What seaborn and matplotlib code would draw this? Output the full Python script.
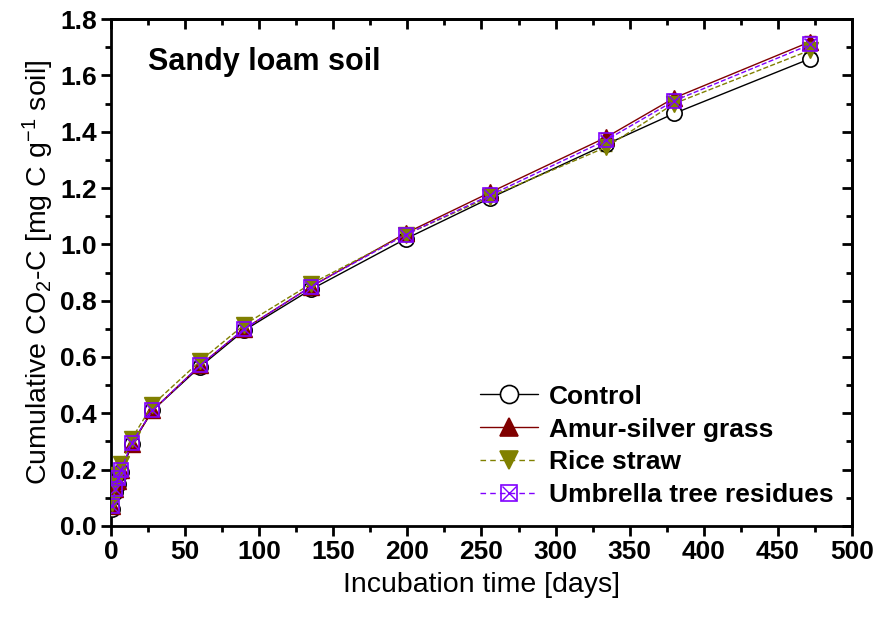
import matplotlib
matplotlib.use("Agg")
import matplotlib.pyplot as plt
import seaborn as sns
import numpy as np
import pandas as pd
from matplotlib.lines import Line2D
from matplotlib.legend_handler import HandlerTuple

days = [1, 3, 5, 7, 14, 28, 60, 90, 135, 199, 256, 334, 380, 472]
control = [0.06, 0.12, 0.15, 0.19, 0.29, 0.41, 0.565, 0.695, 0.84, 1.02, 1.165, 1.355, 1.465, 1.66]
amur = [0.07, 0.13, 0.16, 0.20, 0.29, 0.41, 0.57, 0.70, 0.85, 1.04, 1.185, 1.38, 1.52, 1.72]
rice = [0.08, 0.15, 0.18, 0.22, 0.31, 0.43, 0.585, 0.715, 0.86, 1.035, 1.17, 1.345, 1.50, 1.69]
umbrella = [0.07, 0.13, 0.17, 0.20, 0.295, 0.41, 0.57, 0.70, 0.85, 1.035, 1.175, 1.37, 1.51, 1.71]
err = [0.01, 0.01, 0.01, 0.01, 0.015, 0.015, 0.015, 0.015, 0.015, 0.015, 0.015, 0.015, 0.015, 0.02]
labels = ["Control", "Amur-silver grass", "Rice straw", "Umbrella tree residues"]

sns.set_theme(style="ticks")
plt.rcParams['font.family'] = ['Liberation Sans', 'DejaVu Sans']
plt.rcParams['mathtext.default'] = 'regular'
for k in ['text.color', 'axes.labelcolor', 'xtick.color', 'ytick.color', 'axes.edgecolor']:
    plt.rcParams[k] = 'black'

fig = plt.figure(figsize=(8.81, 6.18), dpi=100)
ax = fig.add_axes([0.126, 0.149, 0.841, 0.820])

series = [
    (control, 'black', '-', 'o', 'white'),
    (amur, '#800000', '-', '^', '#800000'),
    (rice, '#808000', '--', 'v', '#808000'),
    (umbrella, '#8000FF', '--', 's', 'none'),
]
handles = []
for (vals, col, ls, mk, fc), lab in zip(series, labels):
    df = pd.DataFrame({"day": days, "val": vals})
    ax.errorbar(days, vals, yerr=err, fmt='none', ecolor=col, elinewidth=1, capsize=4, zorder=2)
    sns.lineplot(data=df, x="day", y="val", ax=ax, color=col, linewidth=1,
                 linestyle=ls, marker=mk, markersize=11 if mk != 's' else 9.5,
                 markerfacecolor=fc, markeredgecolor=col, markeredgewidth=1.2 if mk in 'os' else 1,
                 dashes=(4, 3) if ls == '--' else None, zorder=3, legend=False)
    if mk == 's':
        ax.plot(days, vals, linestyle='none', marker='x', markersize=8.5, color=col,
                markeredgewidth=1, zorder=3)
        h = (Line2D([], [], color=col, lw=1, linestyle=(0, (4, 3)), marker='s', markersize=11,
                    markerfacecolor='none', markeredgecolor=col, markeredgewidth=1.2),
             Line2D([], [], linestyle='none', marker='x', markersize=10, color=col, markeredgewidth=1))
    else:
        h = Line2D([], [], color=col, lw=1, linestyle=(0, (4, 3)) if ls == '--' else '-',
                   marker=mk, markersize=13, markerfacecolor=fc, markeredgecolor=col,
                   markeredgewidth=1.2)
    handles.append(h)

ax.set_xlim(0, 500)
ax.set_ylim(0, 1.8)
ax.set_xticks(np.arange(0, 501, 50))
ax.set_yticks(np.arange(0, 1.81, 0.2))
ax.set_xticks(np.arange(25, 500, 50), minor=True)
ax.set_yticks(np.arange(0.1, 1.8, 0.2), minor=True)
ax.set_yticklabels([f"{v:.1f}" for v in np.arange(0, 1.81, 0.2)])
for lbl in ax.get_xticklabels() + ax.get_yticklabels():
    lbl.set_fontweight('bold')
ax.tick_params(which='major', direction='out', length=7, width=2, labelsize=19, pad=3)
ax.tick_params(which='minor', direction='out', length=4, width=2)
for s in ax.spines.values():
    s.set_linewidth(2)
    s.set_visible(True)

secx = ax.secondary_xaxis('top')
secx.set_xticks(np.arange(0, 501, 50))
secx.set_xticks(np.arange(25, 500, 50), minor=True)
secx.tick_params(which='major', direction='in', length=7, width=2, labeltop=False)
secx.tick_params(which='minor', direction='in', length=4, width=2)
secy = ax.secondary_yaxis('right')
secy.set_yticks(np.arange(0, 1.81, 0.2))
secy.set_yticks(np.arange(0.1, 1.8, 0.2), minor=True)
secy.tick_params(which='major', direction='in', length=7, width=2, labelright=False)
secy.tick_params(which='minor', direction='in', length=4, width=2)
for sa in (secx, secy):
    for s in sa.spines.values():
        s.set_linewidth(2)

ax.set_xlabel("Incubation time [days]", fontsize=20.5, labelpad=6)
ax.set_ylabel("Cumulative CO$_2$-C [mg C g$^{-1}$ soil]", fontsize=20.5, labelpad=3)

ax.text(0.05, 0.915, "Sandy loam soil", transform=ax.transAxes, fontsize=22,
        fontweight='bold', va='center', ha='left')

leg = ax.legend(handles, labels, loc='lower right', bbox_to_anchor=(1.0, 0.0), frameon=False,
                prop={'weight': 'bold', 'size': 19}, handlelength=2.2, handletextpad=0.4,
                labelspacing=0.34, borderaxespad=0.3,
                handler_map={tuple: HandlerTuple(ndivide=1)})

fig.savefig("out.png", dpi=100)
